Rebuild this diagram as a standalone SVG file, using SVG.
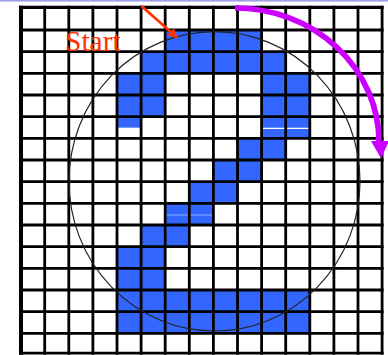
<svg xmlns="http://www.w3.org/2000/svg" width="388" height="355" viewBox="0 0 388 355">
  <style>
    .cell { fill: #3366ff; }
    .grid { stroke: #000; stroke-width: 2.8; fill: none; }
    .circ { stroke: #222; stroke-width: 1.2; fill: none; }
    .label { font-family: "Liberation Serif", "Times New Roman", serif; font-size: 29.5px; fill: #ff3300; }
  </style>
  <defs>
    <marker id="redHead" viewBox="0 0 10 10" refX="9" refY="5" markerWidth="4" markerHeight="3.4" orient="auto" markerUnits="strokeWidth">
      <path d="M0,0 L10,5 L0,10 Z" fill="#ff3300"/>
    </marker>
  </defs>
  <rect x="0" y="0" width="388" height="355" fill="#fff"/>
  <rect x="0" y="0" width="388" height="1.6" fill="#a0a0e6"/>

  <g id="cells">
    <rect class="cell" x="165.2" y="30" width="96.4" height="21.67"/>
    <rect class="cell" x="141.1" y="51.67" width="144.6" height="21.66"/>
    <rect class="cell" x="117" y="73.33" width="48.2" height="43.34"/>
    <rect class="cell" x="261.6" y="73.33" width="48.2" height="65"/>
    <rect class="cell" x="117" y="116.67" width="24.1" height="11.6"/>
    <rect class="cell" x="237.5" y="138.33" width="48.2" height="21.67"/>
    <rect class="cell" x="213.4" y="160" width="48.2" height="21.67"/>
    <rect class="cell" x="189.3" y="181.67" width="48.2" height="21.66"/>
    <rect class="cell" x="165.2" y="203.33" width="48.2" height="21.67"/>
    <rect class="cell" x="141.1" y="225" width="48.2" height="21.67"/>
    <rect class="cell" x="117" y="246.67" width="48.2" height="43.33"/>
    <rect class="cell" x="117" y="290" width="192.8" height="43.33"/>
    <line x1="117" y1="128.3" x2="141.1" y2="128.3" stroke="#fff" stroke-width="1.3"/>
    <line x1="261.6" y1="128.3" x2="309.8" y2="128.3" stroke="#fff" stroke-width="1.3"/>
    <line x1="164.5" y1="215" x2="213.4" y2="215" stroke="#88aaff" stroke-width="1"/>
  </g>

  <g id="grid">
    <path class="grid" d="M44.7,5.7V354.7 M68.8,5.7V354.7 M92.9,5.7V354.7 M117,5.7V354.7 M141.1,5.7V354.7 M165.2,5.7V354.7 M189.3,5.7V354.7 M213.4,5.7V354.7 M237.5,5.7V354.7 M261.6,5.7V354.7 M285.7,5.7V354.7 M309.8,5.7V354.7 M333.9,5.7V354.7 M358,5.7V354.7 M382.1,5.7V354.7"/>
    <path class="grid" d="M19,30H383.6 M19,51.67H383.6 M19,73.33H383.6 M19,95H383.6 M19,116.67H383.6 M19,138.33H383.6 M19,160H383.6 M19,181.67H383.6 M19,203.33H383.6 M19,225H383.6 M19,246.67H383.6 M19,268.33H383.6 M19,290H383.6 M19,311.67H383.6 M19,333.33H383.6 M19,353.2H383.6"/>
    <path d="M19,7.35H383.6" stroke="#000" stroke-width="3.3"/>
    <path d="M21,5.7V354.7" stroke="#000" stroke-width="4"/>
  </g>

  <ellipse id="circle" class="circ" cx="214.5" cy="181.3" rx="145.5" ry="149.7"/>

  <g id="start">
    <text class="label" x="65" y="50.5">Start</text>
    <line x1="141.5" y1="6" x2="177" y2="37.5" stroke="#ff3300" stroke-width="2.8" marker-end="url(#redHead)"/>
  </g>

  <g id="rotation">
    <path d="M235,8 A144,134 0 0 1 379,142" fill="none" stroke="#cc00ff" stroke-width="5.7"/>
    <polygon points="371,141 389,141 381,158.5" fill="#cc00ff"/>
  </g>
</svg>
